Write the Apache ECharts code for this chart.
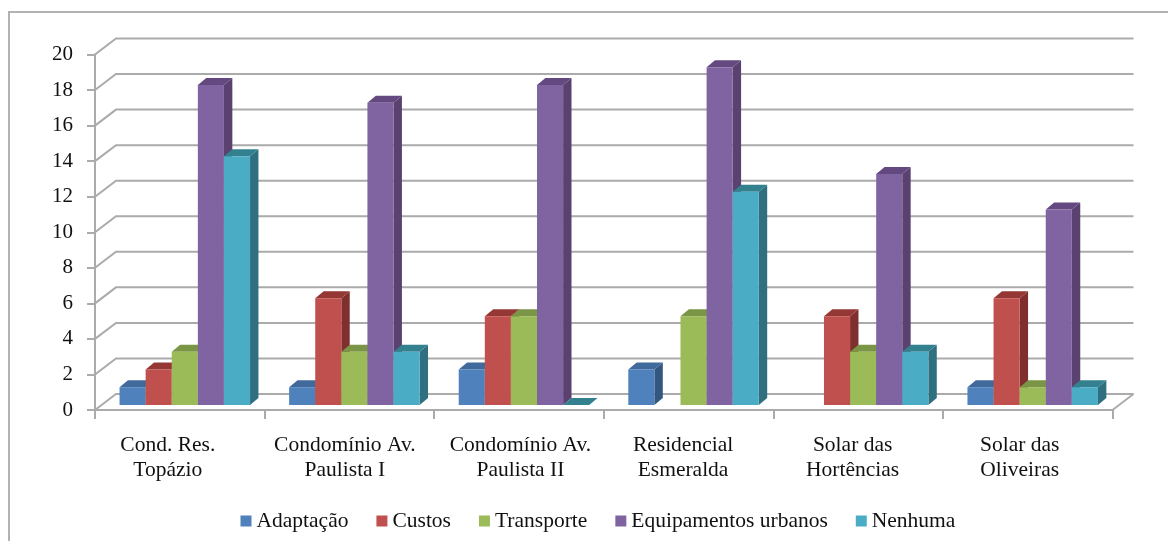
<!DOCTYPE html>
<html><head><meta charset="utf-8">
<style>html,body{margin:0;padding:0;background:#fff;overflow:hidden}#c{width:1168px;height:541px}</style>
<script src="https://cdn.jsdelivr.net/npm/echarts@6/dist/echarts.min.js"></script>
</head><body><div id="c"></div>
<script>
const categories = ['Cond. Res.\nTopázio','Condomínio Av.\nPaulista I','Condomínio Av.\nPaulista II','Residencial\nEsmeralda','Solar das\nHortências','Solar das\nOliveiras'];
const adaptacao = [1,1,2,2,null,1];
const custos = [2,6,5,null,5,6];
const transporte = [3,3,5,5,3,1];
const equipamentos = [18,17,18,19,13,11];
const nenhuma = [14,3,0,12,3,1];
const yTicks = [0,2,4,6,8,10,12,14,16,18,20];

const FONT = '"Liberation Serif","Times New Roman",serif';
const WALL_DX = 21, WALL_DY = 16, FLOOR_LIFT = 5, BAR_W = 26.1, BAR_SHIFT = 5, DEPTH_X = 8.4, DEPTH_Y = 7;
const GRID = '#ababab';
const defs = [
 {name:'Adaptação', data:adaptacao, front:'#4f81bd', top:'#3f6a9b', side:'#34577f'},
 {name:'Custos', data:custos, front:'#c0504d', top:'#953835', side:'#7f2f2d'},
 {name:'Transporte', data:transporte, front:'#9bbb59', top:'#7a9545', side:'#65803a'},
 {name:'Equipamentos urbanos', data:equipamentos, front:'#8064a2', top:'#63497f', side:'#5a4170'},
 {name:'Nenhuma', data:nenhuma, front:'#4bacc6', top:'#33808f', side:'#2f6f80'}
];
function barSeries(d,i){
 return {
  name:d.name, type:'custom', coordinateSystem:'cartesian2d', clip:false, z:5+i,
  itemStyle:{color:d.front},
  data:d.data.map((v,c)=>[c,v]).filter(p=>p[1]!==null),
  encode:{x:0,y:1},
  renderItem(params,api){
   const c=api.coord([api.value(0),api.value(1)]);
   const b=api.coord([api.value(0),0]);
   const x0=c[0]+BAR_SHIFT+(i-2.5)*BAR_W, x1=x0+BAR_W;
   const yt=c[1]-FLOOR_LIFT, yb=b[1]-FLOOR_LIFT;
   const kids=[];
   kids.push({type:'polygon',shape:{points:[[x1,yt],[x1+DEPTH_X,yt-DEPTH_Y],[x1+DEPTH_X,yb-DEPTH_Y],[x1,yb]]},style:{fill:d.side}});
   kids.push({type:'polygon',shape:{points:[[x0,yt],[x0+DEPTH_X,yt-DEPTH_Y],[x1+DEPTH_X,yt-DEPTH_Y],[x1,yt]]},style:{fill:d.top}});
   if(yb>yt) kids.push({type:'rect',shape:{x:x0,y:yt,width:BAR_W,height:yb-yt},style:{fill:d.front}});
   return {type:'group',children:kids};
  }
 };
}
const wall = {
 type:'custom', coordinateSystem:'cartesian2d', clip:false, z:1, silent:true,
 data:yTicks.map(v=>[0,v]), encode:{x:0,y:1},
 renderItem(params,api){
  const y=api.coord([0,api.value(1)])[1], s=params.coordSys;
  const st={stroke:GRID,lineWidth:2,fill:'none'};
  const kids=[{type:'polyline',shape:{points:[[s.x,y],[s.x+WALL_DX,y-WALL_DY],[s.x+s.width+WALL_DX,y-WALL_DY]]},style:st}];
  if(api.value(1)===0) kids.push({type:'line',shape:{x1:s.x+s.width,y1:y,x2:s.x+s.width+WALL_DX,y2:y-WALL_DY},style:st});
  return {type:'group',children:kids};
 }
};
const labelShift = [-24,-9,3,-11,-11,-16];
const chart = echarts.init(document.getElementById('c'),null,{renderer:'canvas'});
chart.setOption({
 animation:false, backgroundColor:'#fff',
 grid:{left:95,right:55.5,top:54.5,bottom:131,containLabel:false},
 graphic:[{type:'rect',shape:{x:9,y:12,width:1400,height:800},style:{fill:'none',stroke:'#b2b2b2',lineWidth:2},z:0,silent:true}],
 legend:{
  data:defs.map(d=>d.name), left:235.5, top:505, icon:'rect', itemWidth:11, itemHeight:11, itemGap:28,
  textStyle:{fontFamily:FONT,fontSize:21.5,color:'#111'}, selectedMode:false
 },
 xAxis:{type:'category',
  data:categories.map((value,i)=>({value,textStyle:{padding:labelShift[i]<0?[0,-labelShift[i],0,0]:[0,0,0,labelShift[i]]}})),
  boundaryGap:true,
  axisLine:{lineStyle:{color:GRID,width:2}},axisTick:{show:true,interval:0,length:9,lineStyle:{color:GRID,width:2}},
  axisLabel:{interval:0,hideOverlap:false,fontFamily:FONT,fontSize:21.5,color:'#111',lineHeight:25,margin:22.5},splitLine:{show:false}},
 yAxis:{type:'value',min:0,max:20,interval:2,
  axisLine:{show:true,lineStyle:{color:GRID,width:2}},axisTick:{show:true,length:8,lineStyle:{color:GRID,width:2}},
  axisLabel:{fontFamily:FONT,fontSize:21,color:'#111',margin:22,padding:[6,0,0,0]},splitLine:{show:false}},
 series:[wall].concat(defs.map(barSeries))
});
</script></body></html>
